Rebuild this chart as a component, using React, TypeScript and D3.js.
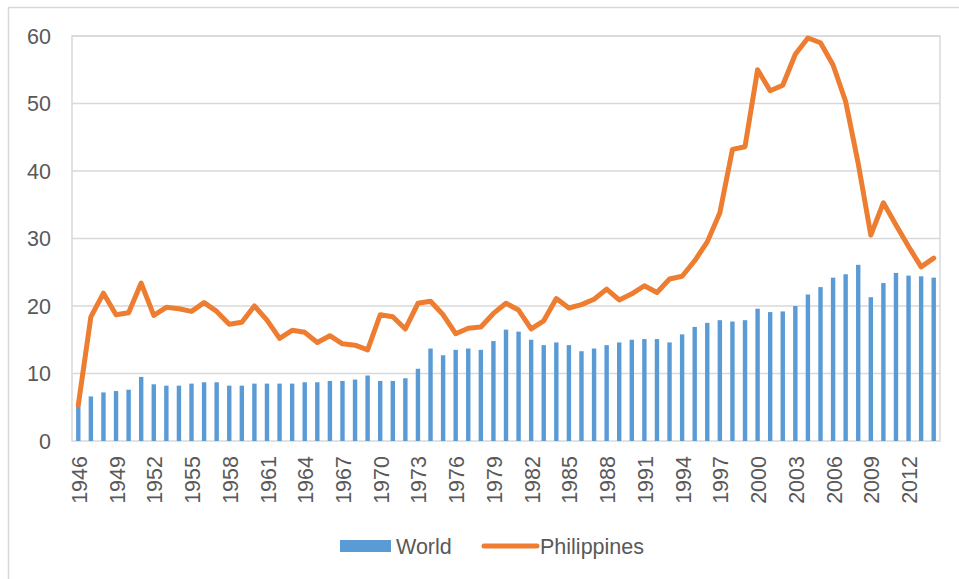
import React, { useEffect, useRef } from "react";
import * as d3 from "d3";

const years: number[] = d3.range(1946, 2015);

const world: number[] = [
  5.3, 6.6, 7.2, 7.4, 7.6, 9.5, 8.4, 8.2, 8.2, 8.5,
  8.7, 8.7, 8.2, 8.2, 8.5, 8.5, 8.5, 8.5, 8.7, 8.7,
  8.9, 8.9, 9.1, 9.7, 8.9, 8.9, 9.3, 10.7, 13.7, 12.7,
  13.5, 13.7, 13.5, 14.8, 16.5, 16.2, 15.0, 14.2, 14.6, 14.2,
  13.3, 13.7, 14.2, 14.6, 15.0, 15.1, 15.1, 14.6, 15.8, 16.9,
  17.5, 17.9, 17.7, 17.9, 19.6, 19.1, 19.2, 20.0, 21.7, 22.8,
  24.2, 24.7, 26.1, 21.3, 23.4, 24.9, 24.5, 24.4, 24.2,
];

const philippines: number[] = [
  5.3, 18.4, 21.9, 18.7, 19.0, 23.4, 18.6, 19.8, 19.6, 19.2,
  20.5, 19.2, 17.3, 17.6, 20.0, 17.9, 15.2, 16.4, 16.1, 14.6,
  15.6, 14.4, 14.2, 13.5, 18.7, 18.4, 16.6, 20.4, 20.7, 18.7,
  15.9, 16.7, 16.9, 18.9, 20.4, 19.4, 16.6, 17.8, 21.1, 19.7,
  20.2, 21.0, 22.5, 20.9, 21.8, 23.0, 22.0, 24.0, 24.4, 26.7,
  29.5, 33.8, 43.2, 43.6, 55.0, 51.9, 52.7, 57.3, 59.7, 59.0,
  55.7, 50.3, 41.1, 30.5, 35.3, 32.0, 28.8, 25.8, 27.1,
];

const yTicks: number[] = [0, 10, 20, 30, 40, 50, 60];
const xLabelYears: number[] = years.filter((y) => (y - 1946) % 3 === 0);

const W = 959;
const H = 579;
const plot = { left: 72, right: 940, top: 36, bottom: 441 };
const grid = "#D9D9D9";
const textColor = "#595959";
const font = "'Liberation Sans', Arial, sans-serif";
const fs = 21.5;

export default function App() {
  const ref = useRef<SVGSVGElement>(null);

  useEffect(() => {
    const svg = d3.select(ref.current);
    svg.selectAll("*").remove();

    const x = d3
      .scaleBand<number>()
      .domain(years)
      .range([plot.left, plot.right])
      .paddingInner(0.65)
      .paddingOuter(0.325);
    const y = d3.scaleLinear().domain([0, 60]).range([plot.bottom, plot.top]);
    const cx = (d: number) => (x(d) as number) + x.bandwidth() / 2;

    svg.append("rect")
      .attr("width", W).attr("height", H).attr("fill", "#fff");

    // chart frame, cut by the picture edges on the right and bottom
    svg.append("rect")
      .attr("x", 8.5).attr("y", 7.5)
      .attr("width", W + 20).attr("height", H + 20)
      .attr("fill", "none").attr("stroke", grid).attr("stroke-width", 1.5);

    // grid
    svg.append("g")
      .selectAll("line")
      .data(yTicks.slice(1))
      .join("line")
      .attr("x1", plot.left).attr("x2", plot.right)
      .attr("y1", (d) => y(d)).attr("y2", (d) => y(d))
      .attr("stroke", grid).attr("stroke-width", 1.5);

    svg.append("rect")
      .attr("x", plot.left).attr("y", plot.top)
      .attr("width", plot.right - plot.left)
      .attr("height", plot.bottom - plot.top)
      .attr("fill", "none").attr("stroke", grid).attr("stroke-width", 1.5);

    // y labels
    svg.append("g")
      .selectAll("text")
      .data(yTicks)
      .join("text")
      .attr("x", 51).attr("y", (d) => y(d))
      .attr("dy", "0.35em")
      .attr("text-anchor", "end")
      .attr("font-family", font).attr("font-size", fs)
      .attr("fill", textColor)
      .text((d) => d);

    // bars
    svg.append("g")
      .selectAll("rect")
      .data(years)
      .join("rect")
      .attr("x", (d) => x(d) as number)
      .attr("width", x.bandwidth())
      .attr("y", (d, i) => y(world[i]))
      .attr("height", (d, i) => y(0) - y(world[i]))
      .attr("fill", "#5B9BD5");

    // line
    const line = d3
      .line<number>()
      .x((d, i) => cx(years[i]))
      .y((d) => y(d));
    svg.append("path")
      .datum(philippines)
      .attr("d", line)
      .attr("fill", "none")
      .attr("stroke", "#ED7D31")
      .attr("stroke-width", 5)
      .attr("stroke-linejoin", "round")
      .attr("stroke-linecap", "round");

    // x labels
    svg.append("g")
      .selectAll("text")
      .data(xLabelYears)
      .join("text")
      .attr("transform", (d) => `translate(${cx(d) + 1},${plot.bottom + 15}) rotate(-90)`)
      .attr("dy", "0.35em")
      .attr("text-anchor", "end")
      .attr("font-family", font).attr("font-size", fs)
      .attr("fill", textColor)
      .text((d) => d);

    // legend
    const lg = svg.append("g");
    lg.append("rect")
      .attr("x", 340).attr("y", 540).attr("width", 51).attr("height", 12)
      .attr("fill", "#5B9BD5");
    lg.append("text")
      .attr("x", 396).attr("y", 546).attr("dy", "0.35em")
      .attr("font-family", font).attr("font-size", fs).attr("fill", textColor)
      .text("World");
    lg.append("line")
      .attr("x1", 484).attr("x2", 537).attr("y1", 546).attr("y2", 546)
      .attr("stroke", "#ED7D31").attr("stroke-width", 5)
      .attr("stroke-linecap", "round");
    lg.append("text")
      .attr("x", 540).attr("y", 546).attr("dy", "0.35em")
      .attr("font-family", font).attr("font-size", fs).attr("fill", textColor)
      .text("Philippines");
  }, []);

  return (
    <svg
      ref={ref}
      width={W}
      height={H}
      style={{ position: "absolute", left: 0, top: 0, display: "block" }}
    />
  );
}
